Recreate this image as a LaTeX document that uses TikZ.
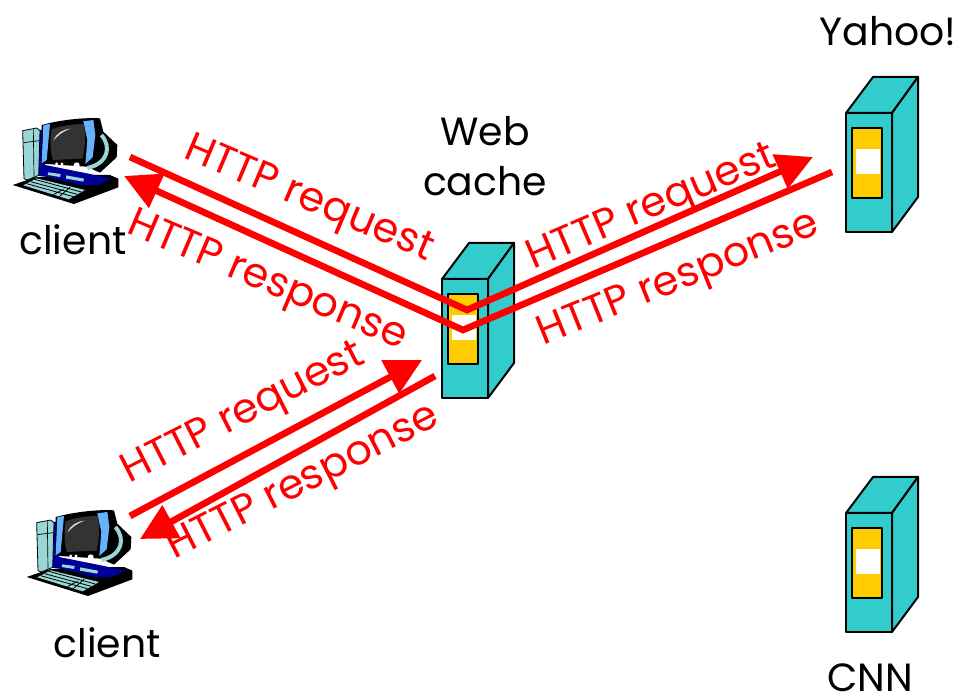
\documentclass[tikz,border=0pt]{standalone}
\usepackage{fontspec}
\setmainfont{Poppins}
\usetikzlibrary{arrows.meta}
\definecolor{srvteal}{HTML}{33CCCC}
\definecolor{srvyellow}{HTML}{FFCC00}
\definecolor{pcblue}{HTML}{000099}
\definecolor{pcsky}{HTML}{66B2FF}
\definecolor{pcaqua}{HTML}{99D6D6}
\definecolor{pcscreen}{HTML}{333333}
\tikzset{
  lbl/.style={font=\fontsize{29.5}{34}\selectfont, inner sep=0pt, align=center},
  redlbl/.style={inner sep=0pt, align=center, font=\fontsize{31}{36}\selectfont, text=red},
  flow/.style={draw=red, line width=5pt, line join=miter, -{Triangle[length=27pt,width=27pt]}},
  pics/servericon/.style={code={
    \begin{scope}[draw=black, line width=1.5pt, line join=round]
      \filldraw[fill=srvteal] (0,0) -- (27,-36) -- (72,-36) -- (46,0) -- cycle;
      \filldraw[fill=srvteal] (46,0) -- (72,-36) -- (72,84) -- (46,119) -- cycle;
      \filldraw[fill=srvteal] (0,0) rectangle (46,119);
      \filldraw[fill=srvyellow] (6,15) rectangle (36,85);
      \fill[white] (10,36) rectangle (34,61);
    \end{scope}
  }},
  pics/pcicon/.style={code={
    \begin{scope}[x=0.25pt,y=-0.25pt, line join=round]
      \fill[black] (38,255) -- (105,232) -- (230,225) -- (330,225) -- (355,236) -- (355,262) -- (222,312) -- cycle;
      \fill[pcblue] (112,90) -- (135,90) -- (135,195) -- (270,222) -- (335,236) -- (295,255) -- (240,255) -- (150,232) -- (105,226) -- cycle;
      \filldraw[fill=pcaqua, draw=black, line width=0.6pt] (68,92) -- (110,84) -- (120,92) -- (116,226) -- (82,240) -- (72,236) -- cycle;
      \draw[black, line width=0.5pt] (100,88) -- (102,230) (70,128) -- (118,122);
      \fill[black] (125,75) .. controls (180,60) and (250,52) .. (300,55) -- (310,95) -- (352,135) -- (350,172) -- (300,218) -- (260,200) -- (140,192) -- (125,190) -- cycle;
      \draw[pcaqua, line width=3pt] (304,105) .. controls (335,140) and (325,190) .. (262,204);
      \fill[pcsky] (130,75) -- (150,72) -- (140,180) -- (125,190) -- cycle;
      \fill[pcsky] (250,64) -- (280,60) -- (286,105) -- (278,172) -- (256,192) -- (262,120) -- cycle;
      \fill[pcscreen] (155,88) .. controls (185,76) and (225,72) .. (252,72) .. controls (258,110) and (254,150) .. (248,176) -- (158,180) .. controls (150,150) and (150,115) .. (155,88) -- cycle;
      \fill[white!85!pcscreen] (160,122) .. controls (170,98) and (190,88) .. (212,86) .. controls (190,94) and (175,104) .. (160,122) -- cycle;
      \fill[white] (170,192) circle (5) (186,192) circle (5) (230,196) circle (9);
      \fill[pcaqua] (145,217) -- (182,222) -- (180,231) -- (143,225) -- cycle;
      \fill[pcaqua] (198,226) -- (252,236) -- (250,245) -- (198,236) -- cycle;
      \fill[pcaqua] (70,256) -- (110,235) -- (255,270) -- (206,298) -- cycle;
      \draw[black, line width=0.6pt] (92,245) -- (232,283) (80,251) -- (220,290) (104,238) -- (244,276) (190,268) -- (160,284) (210,262) -- (178,290);
    \end{scope}
  }}
}
\begin{document}
\begin{tikzpicture}[x=0.75pt,y=-0.75pt]
\useasboundingbox (0,0) rectangle (968,698);
% servers
\pic at (442,279) {servericon};
\pic at (846,113) {servericon};
\pic at (846,513) {servericon};
% clients
\pic at (0,100) {pcicon};
\pic at (14,492) {pcicon};
% connectors
\coordinate (reqAstart) at (130,157);
\coordinate (reqAbend) at (467,310);
\coordinate (reqAend) at (813,157);
\coordinate (respYstart) at (832,172);
\coordinate (respYbend) at (463,330);
\coordinate (respYend) at (124,176);
\coordinate (reqBstart) at (130,516);
\coordinate (reqBend) at (422,360);
\coordinate (respBstart) at (435,376);
\coordinate (respBend) at (140,539);
\draw[flow] (reqAstart) -- (reqAbend) -- (reqAend);
\draw[flow] (respYstart) -- (respYbend) -- (respYend);
\draw[flow] (reqBstart) -- (reqBend);
\draw[flow] (respBstart) -- (respBend);
% black labels
\node[lbl] (lyahoo) at (888,31) {Yahoo!};
\node[lbl] (lweb) at (485,131) {Web};
\node[lbl] (lcache) at (485,181) {cache};
\node[lbl] (lc1) at (73,240) {client};
\node[lbl] (lc2) at (107,643) {client};
\node[lbl] (lcnn) at (870,678) {CNN};
% red labels
\node[redlbl, rotate=-23] (r1) at (308,201) {HTTP request};
\node[redlbl, rotate=-23] (r2) at (267,283) {HTTP response};
\node[redlbl, rotate=23] (r3) at (652,209) {HTTP request};
\node[redlbl, rotate=22] (r4) at (679,281) {HTTP response};
\node[redlbl, rotate=27] (r5) at (244,415) {HTTP request};
\node[redlbl, rotate=27] (r6) at (304,484) {HTTP response};
\end{tikzpicture}
\end{document}
